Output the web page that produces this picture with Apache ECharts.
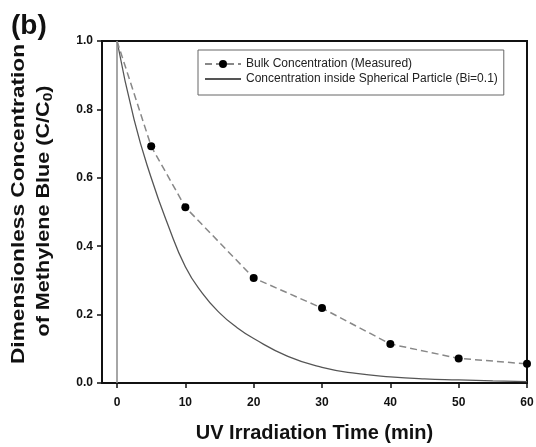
<!DOCTYPE html>
<html><head><meta charset="utf-8">
<script src="https://cdn.jsdelivr.net/npm/echarts@6/dist/echarts.min.js"></script>
<style>html,body{margin:0;padding:0;background:#fff}#c{width:536px;height:447px}</style>
</head><body><div id="c"></div>
<script>
var measuredTime = [0, 5, 10, 20, 30, 40, 50, 60];
var measuredConc = [1.0, 0.692, 0.514, 0.307, 0.219, 0.114, 0.072, 0.056];
var modelTime = [0, 2.5, 5, 7.5, 10, 12.5, 15, 17.5, 20, 25, 30, 35, 40, 45, 50, 55, 60];
var modelConc = [1.0, 0.77, 0.60, 0.46, 0.34, 0.262, 0.205, 0.163, 0.13, 0.078, 0.046, 0.028, 0.018, 0.012, 0.009, 0.006, 0.004];
var xTicks = [0, 10, 20, 30, 40, 50, 60];
var seriesNames = ['Bulk Concentration (Measured)', 'Concentration inside Spherical Particle (Bi=0.1)'];

var chart = echarts.init(document.getElementById('c'));
var font = 'Arial, "Liberation Sans", sans-serif';
chart.setOption({
  animation: false,
  backgroundColor: '#fff',
  title: {text: '(b)', left: 6, top: 7, textStyle: {fontFamily: font, fontWeight: 'bold', fontSize: 28, color: '#111'}},
  grid: {left: 102, right: 9, top: 41, bottom: 64, outerBoundsMode: 'none', containLabel: false,
         show: true, borderColor: '#111', borderWidth: 2, backgroundColor: 'transparent'},
  legend: {
    top: 50, left: 198, orient: 'vertical', itemGap: 3, itemWidth: 36, itemHeight: 10, itemTextGap: 13,
    padding: [8, 6, 10, 6], borderColor: '#666', borderWidth: 1,
    textStyle: {fontFamily: font, fontSize: 12, color: '#222'},
    data: [
      {name: seriesNames[0]},
      {name: seriesNames[1], itemStyle: {color: 'rgba(0,0,0,0)', borderWidth: 0, opacity: 0}}
    ]
  },
  graphic: [
    {type: 'text', x: 19, y: 204, rotation: Math.PI / 2, scaleX: 1.26, silent: true,
     style: {text: 'Dimensionless Concentration', font: 'bold 18px Arial, "Liberation Sans", sans-serif',
             fill: '#111', align: 'center', verticalAlign: 'middle'}},
    {type: 'text', x: 44, y: 211, rotation: Math.PI / 2, scaleX: 1.2, silent: true,
     style: {text: '{a|of Methylene Blue (C/C}{s|0}{a|)}', fill: '#111', align: 'center', verticalAlign: 'middle',
             rich: {a: {font: 'bold 18px Arial, "Liberation Sans", sans-serif', fill: '#111', lineHeight: 22},
                    s: {font: 'bold 13px Arial, "Liberation Sans", sans-serif', fill: '#111', lineHeight: 22, padding: [8, 0, 0, 0]}}}}
  ],
  xAxis: {
    type: 'value', min: -2.2, max: 60,
    name: 'UV Irradiation Time (min)', nameLocation: 'middle', nameGap: 40,
    nameTextStyle: {fontFamily: font, fontWeight: 'bold', fontSize: 20, color: '#111'},
    axisLine: {show: true, onZero: false, lineStyle: {color: '#111', width: 2}},
    axisTick: {show: true, length: 5, customValues: xTicks, lineStyle: {color: '#111', width: 1.5}},
    axisLabel: {customValues: xTicks, fontFamily: font, fontWeight: 'bold', fontSize: 12, color: '#111', margin: 14},
    splitLine: {show: false}
  },
  yAxis: {
    type: 'value', min: 0, max: 1, interval: 0.2,
    axisLine: {show: true, onZero: false, lineStyle: {color: '#111', width: 2}},
    axisTick: {show: true, length: 5, lineStyle: {color: '#111', width: 1.5}},
    axisLabel: {fontFamily: font, fontWeight: 'bold', fontSize: 12, color: '#111', margin: 9,
      formatter: function (v) { return v.toFixed(1); }},
    splitLine: {show: false}
  },
  series: [
    {
      name: seriesNames[0], type: 'line', z: 5,
      data: measuredTime.map(function (t, i) {
        return i === 0 ? {value: [t, measuredConc[i]], symbol: 'none'} : [t, measuredConc[i]];
      }),
      symbol: 'circle', symbolSize: 8,
      itemStyle: {color: '#000'},
      lineStyle: {color: '#888', width: 1.5, type: [7, 4]},
      markLine: {
        silent: true, symbol: 'none', label: {show: false},
        lineStyle: {color: '#888', width: 1.5, type: 'solid'},
        data: [{xAxis: 0}]
      }
    },
    {
      name: seriesNames[1], type: 'line', smooth: true, showSymbol: false, symbol: 'none',
      data: modelTime.map(function (t, i) { return [t, modelConc[i]]; }),
      itemStyle: {color: '#555'},
      lineStyle: {color: '#555', width: 1.3}
    }
  ]
});
</script></body></html>
